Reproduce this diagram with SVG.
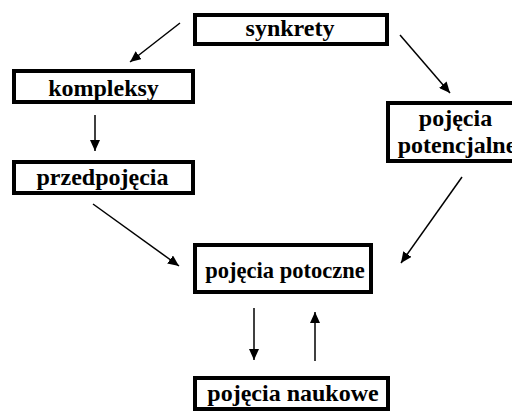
<svg xmlns="http://www.w3.org/2000/svg" width="512" height="412" viewBox="0 0 512 412">
  <style>
    .box { fill: #fff; stroke: #000; stroke-width: 4; }
    .lbl { font-family: "Liberation Serif", "Times New Roman", serif; font-weight: bold; font-size: 24px; fill: #000; text-anchor: middle; }
    .edge { stroke: #000; stroke-width: 1.5; fill: none; marker-end: url(#head); }
  </style>
  <defs>
    <marker id="head" markerUnits="userSpaceOnUse" markerWidth="11" markerHeight="10" refX="11" refY="5" orient="auto">
      <path d="M0,0 L11,5 L0,10 z" fill="#000"/>
    </marker>
  </defs>
  <rect width="512" height="412" fill="#fff"/>

  <g id="connectors">
    <line class="edge" x1="180" y1="23" x2="130" y2="62"/>
    <line class="edge" x1="400" y1="35" x2="450" y2="93"/>
    <line class="edge" x1="95" y1="115" x2="95" y2="151"/>
    <line class="edge" x1="93" y1="204" x2="179" y2="266"/>
    <line class="edge" x1="462" y1="177" x2="401" y2="263"/>
    <line class="edge" x1="254" y1="308" x2="254" y2="360"/>
    <line class="edge" x1="315" y1="361" x2="315" y2="312"/>
  </g>

  <g id="synkrety">
    <rect class="box" x="195" y="15" width="192" height="29"/>
    <text class="lbl" x="290" y="36">synkrety</text>
  </g>

  <g id="kompleksy">
    <rect class="box" x="14" y="71" width="179" height="31"/>
    <text class="lbl" x="103.5" y="96">kompleksy</text>
  </g>

  <g id="przedpojecia">
    <rect class="box" x="14" y="162" width="179" height="31"/>
    <text class="lbl" x="102.5" y="185">przedpojęcia</text>
  </g>

  <g id="pojecia-potencjalne">
    <rect class="box" x="388" y="103" width="140" height="58"/>
    <text class="lbl" x="455.5" y="126">pojęcia</text>
    <text class="lbl" x="457" y="153">potencjalne</text>
  </g>

  <g id="pojecia-potoczne">
    <rect class="box" x="195" y="245" width="176" height="47"/>
    <text class="lbl" x="285" y="278" style="font-size:22.5px">pojęcia potoczne</text>
  </g>

  <g id="pojecia-naukowe">
    <rect class="box" x="195" y="378" width="193" height="31"/>
    <text class="lbl" x="293" y="401">pojęcia naukowe</text>
  </g>
</svg>
